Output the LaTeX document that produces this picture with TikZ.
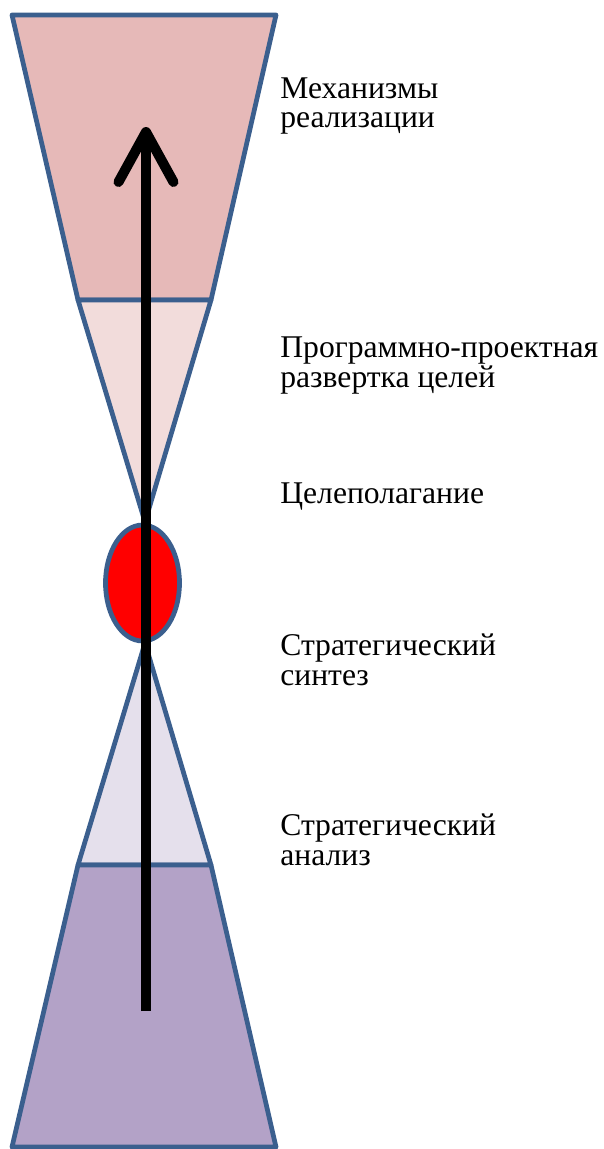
\documentclass[tikz,border=0pt]{standalone}
\usepackage{fontspec}
\setmainfont{Liberation Serif}
\usetikzlibrary{arrows.meta}
\definecolor{rim}{HTML}{3B5F8E}
\definecolor{topfill}{HTML}{E6B9B8}
\definecolor{upfill}{HTML}{F2DCDB}
\definecolor{lowfill}{HTML}{E5E0EC}
\definecolor{basefill}{HTML}{B3A2C7}

\begin{document}
\begin{tikzpicture}[x=0.02cm, y=-0.02cm,
    >={Straight Barb[length=1cm,width=1.1cm,round,line width=5.7pt]}]
  \tikzset{
    part/.style={draw=rim, line width=2.7pt, line join=round},
    lbl/.style={anchor=base west, align=left, inner sep=0pt,
      font=\rmfamily\fontsize{18}{17}\selectfont}
  }
  \useasboundingbox (0,0) rectangle (603,1149);

  % the hourglass
  \draw[part, fill=topfill] (12,15) -- (276,15) -- (211,300) -- (78,300) -- cycle;
  \draw[part, fill=upfill] (78,300) -- (211,300) -- (145,522) -- cycle;
  \draw[part, fill=lowfill] (145,643) -- (211,865) -- (78,865) -- cycle;
  \draw[part, fill=basefill] (78,865) -- (211,865) -- (276,1147) -- (12,1147) -- cycle;
  \draw[part, fill=red] (142.5,583) ellipse [x radius=37, y radius=58];

  \coordinate (start) at (146,1011);
  \coordinate (goal) at (146,127);
  \draw[->, line width=5.7pt] (start) -- (goal);

  % base anchor sits on the last line
  \node[lbl] (mech) at (280,128) {Механизмы\\реализации};
  \node[lbl] (prog) at (280,387) {Программно-проектная\\развертка целей};
  \node[lbl] (aim) at (280,503) {Целеполагание};
  \node[lbl] (synth) at (280,685) {Стратегический\\синтез};
  \node[lbl] (anal) at (280,865) {Стратегический\\анализ};
\end{tikzpicture}
\end{document}
